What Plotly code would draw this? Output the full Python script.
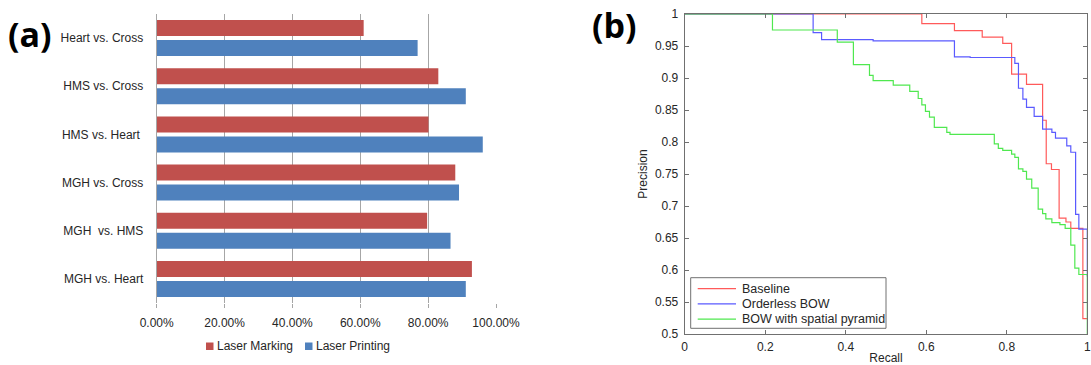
import plotly.graph_objects as go

# ---- Panel (a): accuracy per comparison ----
comparisons = ["Heart vs. Cross", "HMS vs. Cross", "HMS vs. Heart\u00a0",
               "MGH vs. Cross", "MGH\u00a0 vs. HMS", "MGH vs. Heart"]
laser_marking = [0.610, 0.830, 0.801, 0.880, 0.797, 0.929]
laser_printing = [0.769, 0.911, 0.961, 0.891, 0.866, 0.911]
bar_names = ["Laser Marking", "Laser Printing"]
bar_colors = ["#C0504D", "#4F81BD"]
pct_ticks = [0.0, 0.2, 0.4, 0.6, 0.8, 1.0]
pct_labels = ["0.00%", "20.00%", "40.00%", "60.00%", "80.00%", "100.00%"]

# ---- Panel (b): precision-recall step curves ----
baseline_recall = [0, 0.589, 0.670, 0.739, 0.790, 0.812, 0.849, 0.889, 0.898,
                   0.911, 0.930, 0.947, 0.959, 0.989, 1.0]
baseline_prec = [1, 0.985, 0.974, 0.964, 0.954, 0.906, 0.890, 0.834, 0.766,
                 0.757, 0.681, 0.675, 0.665, 0.524, 0.524]

bow_recall = [0, 0.319, 0.340, 0.468, 0.670, 0.709, 0.820, 0.829, 0.840, 0.849,
              0.868, 0.889, 0.912, 0.921, 0.949, 0.959, 0.971, 0.979, 1.0]
bow_prec = [1, 0.971, 0.960, 0.958, 0.933, 0.932, 0.923, 0.884, 0.867, 0.854,
            0.840, 0.820, 0.815, 0.806, 0.794, 0.784, 0.687, 0.664, 0.590]

pyr_recall = [0, 0.218, 0.379, 0.419, 0.459, 0.468, 0.518, 0.559, 0.580, 0.589,
              0.598, 0.608, 0.620, 0.651, 0.659, 0.769, 0.779, 0.790, 0.812,
              0.820, 0.829, 0.840, 0.849, 0.862, 0.878, 0.889, 0.897, 0.912,
              0.932, 0.945, 0.959, 0.969, 0.979, 1.0]
pyr_prec = [1, 0.975, 0.956, 0.921, 0.904, 0.896, 0.889, 0.879, 0.868, 0.858,
            0.848, 0.839, 0.823, 0.815, 0.812, 0.797, 0.790, 0.787, 0.781,
            0.776, 0.758, 0.754, 0.742, 0.728, 0.695, 0.688, 0.680, 0.674,
            0.671, 0.665, 0.639, 0.603, 0.593, 0.500]

curve_names = ["Baseline", "Orderless BOW", "BOW with spatial pyramid"]
curve_colors = ["#ff5a5a", "#5a5aff", "#4fe84f"]

prec_ticks = [0.5, 0.55, 0.6, 0.65, 0.7, 0.75, 0.8, 0.85, 0.9, 0.95, 1.0]
prec_labels = ["0.5", "0.55", "0.6", "0.65", "0.7", "0.75", "0.8", "0.85", "0.9", "0.95", "1"]
recall_ticks = [0, 0.2, 0.4, 0.6, 0.8, 1.0]
recall_labels = ["0", "0.2", "0.4", "0.6", "0.8", "1"]

W, H = 1091, 365
FONT = "Liberation Sans, Arial, sans-serif"
TXT = "#262626"


def px_x(p):
    return p / W


def px_y(p):
    return 1 - p / H


fig = go.Figure()

for name, col, vals in zip(bar_names, bar_colors, [laser_marking, laser_printing]):
    fig.add_trace(go.Bar(y=comparisons, x=vals, orientation="h", name=name,
                         marker_color=col, marker_line_width=0,
                         xaxis="x", yaxis="y", showlegend=False))

curve_data = [(baseline_recall, baseline_prec), (bow_recall, bow_prec),
              (pyr_recall, pyr_prec)]
for name, col, (rx, py_) in zip(curve_names, curve_colors, curve_data):
    fig.add_trace(go.Scatter(x=rx, y=py_, mode="lines", name=name,
                             line=dict(color=col, width=1.2, shape="hv"),
                             xaxis="x2", yaxis="y2", showlegend=False))

shapes = []
annotations = []

# Excel-style legend under the bar panel: small square swatch + label
swatch_x = [206, 305]
for name, col, sx in zip(bar_names, bar_colors, swatch_x):
    shapes.append(dict(type="rect", xref="paper", yref="paper",
                       x0=px_x(sx), x1=px_x(sx + 7.5), y0=px_y(350), y1=px_y(342.5),
                       line=dict(width=0), fillcolor=col))
    annotations.append(dict(text=name, x=px_x(sx + 8.5), y=px_y(346), xref="paper",
                            yref="paper", xanchor="left", yanchor="middle",
                            showarrow=False, font=dict(size=12, color=TXT)))

# MATLAB-style boxed legend for the precision-recall panel
shapes.append(dict(type="rect", xref="paper", yref="paper",
                   x0=px_x(690.7), x1=px_x(886), y0=px_y(328.3), y1=px_y(277.7),
                   line=dict(color="#707070", width=1), fillcolor="white", layer="above"))
row_y = [288.7, 303.9, 319.1]
for name, col, ry in zip(curve_names, curve_colors, row_y):
    shapes.append(dict(type="line", xref="paper", yref="paper",
                       x0=px_x(697.7), x1=px_x(736), y0=px_y(ry), y1=px_y(ry),
                       line=dict(color=col, width=1.2), layer="above"))
    annotations.append(dict(text=name, x=px_x(740), y=px_y(ry), xref="paper", yref="paper",
                            xanchor="left", yanchor="middle", showarrow=False,
                            font=dict(size=12.5, color=TXT)))

annotations += [
    dict(text="<b>(a)</b>", x=px_x(6), y=px_y(34), xref="paper", yref="paper",
         xanchor="left", yanchor="middle", showarrow=False,
         font=dict(family="Open Sans, sans-serif", size=34, color="#000")),
    dict(text="<b>(b)</b>", x=px_x(590), y=px_y(25), xref="paper", yref="paper",
         xanchor="left", yanchor="middle", showarrow=False,
         font=dict(family="Open Sans, sans-serif", size=34, color="#000")),
]

fig.update_layout(
    width=W, height=H,
    margin=dict(l=0, r=0, t=0, b=0, autoexpand=False),
    paper_bgcolor="white", plot_bgcolor="white",
    font=dict(family=FONT, size=12, color=TXT),
    barmode="group", bargap=0.17, bargroupgap=0.2,
    showlegend=False,
    xaxis=dict(domain=[px_x(156.7), px_x(496)], range=[0, 1.0],
               tickvals=pct_ticks, ticktext=pct_labels,
               showgrid=True, gridcolor="#a6a6a6", gridwidth=1,
               zeroline=False, showline=False,
               ticks="outside", ticklen=4, tickcolor="#a6a6a6",
               ticklabelstandoff=5, tickfont=dict(size=12, color=TXT),
               anchor="y", fixedrange=True, automargin=False),
    yaxis=dict(domain=[px_y(303), px_y(14)], autorange="reversed",
               showline=True, linecolor="#a6a6a6", linewidth=1,
               showgrid=False, ticks="", ticklabelstandoff=10,
               tickfont=dict(size=12, color=TXT), anchor="x", fixedrange=True,
               automargin=False),
    xaxis2=dict(domain=[px_x(684.7), px_x(1087.3)], range=[0, 1],
                tickvals=recall_ticks, ticktext=recall_labels,
                showgrid=False, zeroline=False,
                showline=True, linecolor="#707070", linewidth=1, mirror="allticks",
                ticks="inside", ticklen=4, tickcolor="#707070",
                ticklabelstandoff=2, tickfont=dict(size=12, color=TXT),
                title=dict(text="Recall", font=dict(size=12, color=TXT), standoff=4),
                anchor="y2", fixedrange=True, automargin=False),
    yaxis2=dict(domain=[px_y(334), px_y(14)], range=[0.5, 1],
                tickvals=prec_ticks, ticktext=prec_labels,
                showgrid=False, zeroline=False,
                showline=True, linecolor="#707070", linewidth=1, mirror="allticks",
                ticks="inside", ticklen=4, tickcolor="#707070",
                ticklabelstandoff=3, tickfont=dict(size=12, color=TXT),
                title=dict(text="Precision", font=dict(size=12, color=TXT), standoff=4),
                anchor="x2", fixedrange=True, automargin=False),
    shapes=shapes,
    annotations=annotations,
)

fig.write_html("out.html")
